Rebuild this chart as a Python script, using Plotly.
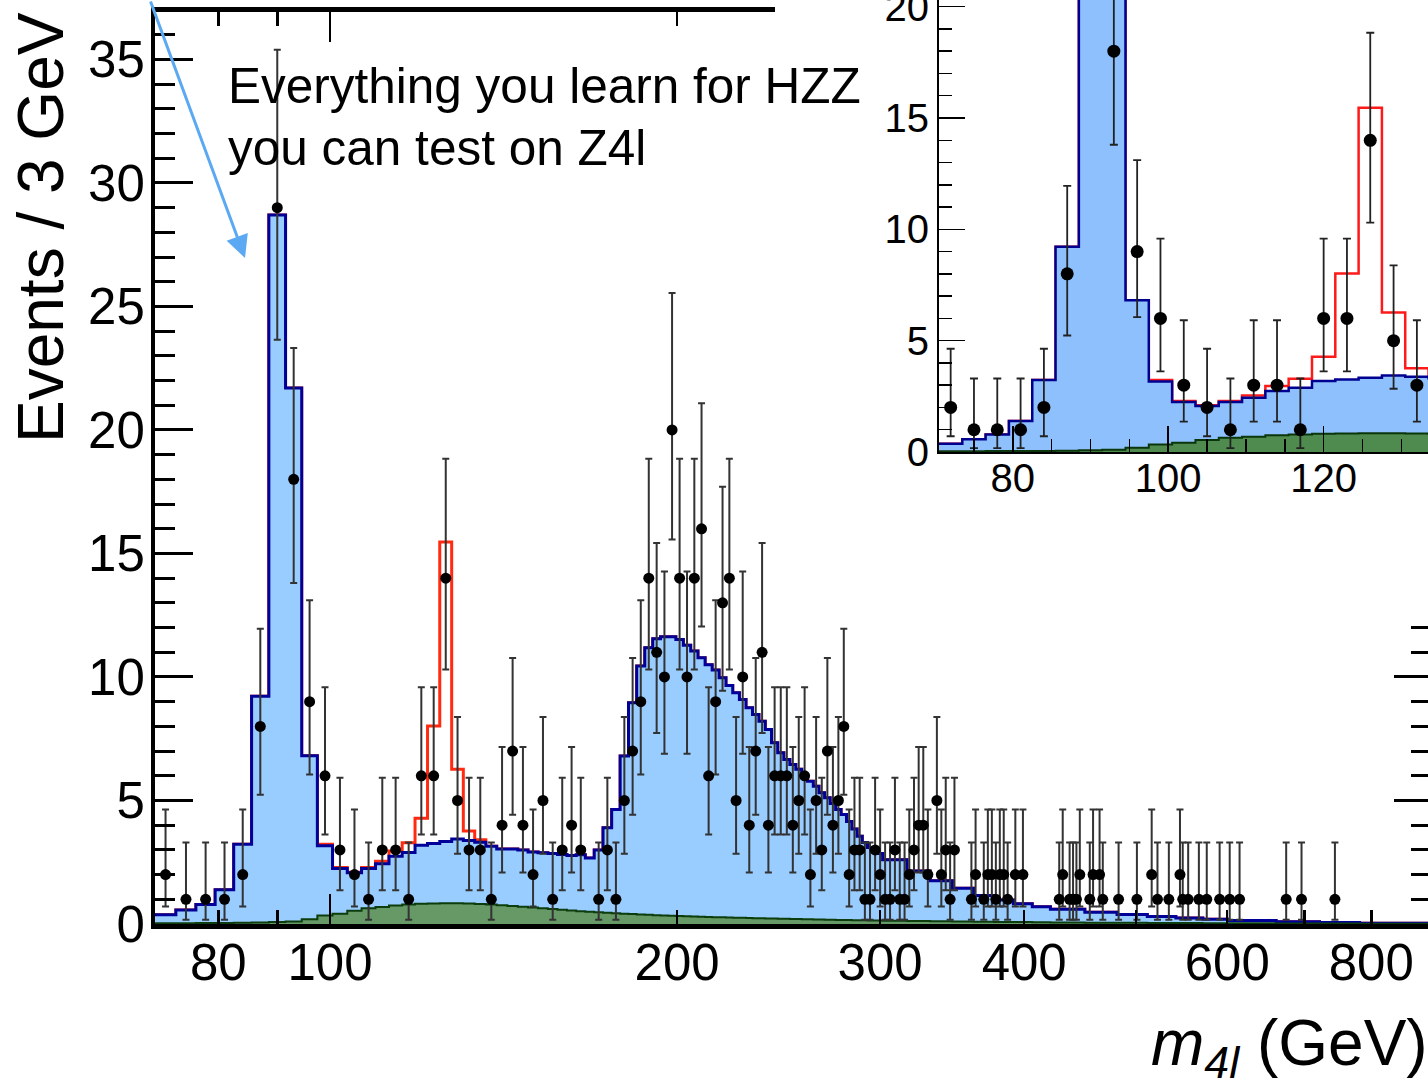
import numpy as np
import plotly.graph_objects as go

FIG_W, FIG_H = 1428, 1089
FONT = "Liberation Sans, Arial, Helvetica, sans-serif"

# Observed four-lepton events per 3 GeV bin (bin centre in GeV -> count)
data_mass = [72, 75, 78, 81, 84, 87, 90, 93, 96, 99, 102, 105, 108, 111, 114, 117, 120, 123, 126, 129,
             132, 135, 138, 141, 144, 147, 150, 153, 156, 159, 162, 165, 171, 174, 177, 180, 183, 186, 189, 192,
             195, 198, 201, 204, 207, 210, 213, 216, 219, 222, 225, 228, 231, 234, 237, 240, 243, 246, 249, 252,
             255, 258, 261, 264, 267, 270, 273, 276, 279, 282, 285, 288, 291, 294, 297, 300, 303, 306, 309, 312,
             315, 318, 321, 324, 327, 330, 336, 339, 342, 345, 348, 360, 363, 369, 372, 375, 378, 381, 384, 387,
             393, 399, 429, 432, 438, 441, 444, 447, 456, 459, 465, 468, 483, 501, 516, 522, 534, 546, 549, 555,
             567, 576, 591, 603, 615, 675, 696, 744]
data_count = [2, 1, 1, 1, 2, 8, 29, 18, 9, 6, 3, 2, 1, 3, 3, 1, 6, 6, 14, 5,
              3, 3, 1, 4, 7, 4, 2, 5, 1, 3, 4, 3, 1, 3, 1, 5, 7, 9, 14, 11,
              10, 20, 14, 10, 14, 16, 6, 9, 13, 14, 5, 10, 4, 7, 11, 4, 6, 6, 6, 4,
              5, 6, 2, 5, 3, 7, 4, 5, 8, 2, 3, 3, 1, 1, 3, 2, 1, 1, 3, 1,
              1, 2, 3, 4, 4, 2, 5, 2, 3, 1, 3, 1, 2, 1, 2, 2, 1, 2, 2, 1,
              2, 2, 1, 2, 1, 1, 1, 2, 1, 2, 2, 1, 1, 1, 2, 1, 1, 2, 1, 1,
              1, 1, 1, 1, 1, 1, 1, 1]

# 68% central Poisson intervals, indexed by the observed count
poisson_lo = [0.0, 0.173, 0.708, 1.367, 2.086, 2.840, 3.620, 4.419, 5.232, 6.057,
              6.891, 7.734, 8.585, 9.441, 10.30, 11.17, 12.04, 12.92, 13.80, 14.68,
              15.57, 16.45, 17.35, 18.24, 19.14, 20.03, 20.93, 21.84, 22.74, 23.65]
poisson_hi = [1.841, 3.300, 4.638, 5.918, 7.163, 8.382, 9.584, 10.77, 11.95, 13.11,
              14.27, 15.42, 16.56, 17.70, 18.83, 19.96, 21.08, 22.20, 23.32, 24.42,
              25.54, 26.64, 27.74, 28.84, 29.94, 31.03, 32.12, 33.21, 34.30, 35.39]

# Expected background: 3 GeV bins from 70.5 to 301.5 GeV, wider bins above
fine_edges = np.arange(70.5, 302.0, 3.0)
coarse_edges = [316.5, 331.5, 346.5, 361.5, 376.5, 391.5, 406.5, 421.5, 451.5, 481.5,
                511.5, 541.5, 571.5, 601.5, 661.5, 721.5, 781.5, 901.5]

# ZZ + Z+X (stacked total), events / 3 GeV
bkg_fine = [0.37, 0.57, 0.79, 1.39, 3.23, 9.22, 28.7, 21.7, 6.81, 3.17,
            2.25, 2.07, 2.25, 2.44, 2.74, 2.89, 3.19, 3.26, 3.34, 3.44,
            3.38, 3.31, 3.15, 3.04, 3.04, 3.00, 2.91, 2.88, 2.85, 2.81,
            2.77, 2.80, 2.67, 3.00, 3.90, 4.64, 6.80, 8.96, 10.44, 11.18,
            11.55, 11.63, 11.63, 11.52, 11.28, 11.05, 10.78, 10.50, 10.28, 9.97,
            9.66, 9.36, 9.09, 8.75, 8.48, 8.21, 7.87, 7.34, 6.93, 6.66,
            6.46, 6.26, 5.98, 5.78, 5.58, 5.31, 5.11, 4.88, 4.64, 4.43,
            4.15, 3.85, 3.55, 3.30, 3.10, 2.95, 2.85]
bkg_coarse = [2.6, 2.15, 1.75, 1.45, 1.15, 0.97, 0.82, 0.70, 0.60, 0.48,
              0.38, 0.30, 0.24, 0.19, 0.14, 0.09, 0.06, 0.03]

# Z+X reducible background, events / 3 GeV
zx_fine = [0.03, 0.03, 0.04, 0.04, 0.05, 0.06, 0.08, 0.10, 0.19, 0.34,
           0.42, 0.54, 0.64, 0.69, 0.75, 0.79, 0.82, 0.83, 0.84, 0.84,
           0.83, 0.81, 0.79, 0.76, 0.73, 0.70, 0.67, 0.64, 0.61, 0.58,
           0.55, 0.52, 0.50, 0.48, 0.46, 0.44, 0.42, 0.40, 0.38, 0.37,
           0.35, 0.34, 0.33, 0.32, 0.31, 0.30, 0.29, 0.28, 0.27, 0.27,
           0.26, 0.25, 0.25, 0.24, 0.23, 0.23, 0.22, 0.22, 0.21, 0.21,
           0.20, 0.20, 0.19, 0.19, 0.18, 0.18, 0.17, 0.17, 0.16, 0.16,
           0.16, 0.15, 0.15, 0.15, 0.14, 0.14, 0.14]
zx_coarse = [0.13, 0.12, 0.11, 0.10, 0.09, 0.085, 0.08, 0.075, 0.065, 0.055,
             0.05, 0.045, 0.04, 0.035, 0.03, 0.025, 0.02, 0.015]

# Higgs signal (m_H = 126 GeV) stacked on top of the background
signal_mass = [99, 102, 105, 108, 111, 114, 117, 120, 123, 126, 129, 132, 135]
signal_vals = [0.06, 0.04, 0.03, 0.04, 0.10, 0.22, 0.40, 1.09, 4.76, 12.12, 2.82, 0.38, 0.10]

# Axis tick values
main_x_labels = [80, 100, 200, 300, 400, 600, 800]
main_x_minor = [90, 500, 700]
main_x_long = [100]

model_edges = np.concatenate([fine_edges, coarse_edges])
bkg_total = np.array(bkg_fine + bkg_coarse)
zx_total = np.array(zx_fine + zx_coarse)
centres = 0.5 * (model_edges[:-1] + model_edges[1:])
sig_total = bkg_total.copy()
for m, s in zip(signal_mass, signal_vals):
    sig_total[int(np.argmin(np.abs(centres - m)))] += s

err_hi = [poisson_hi[n] - n for n in data_count]
err_lo = [n - poisson_lo[n] for n in data_count]


def step(values):
    return list(model_edges), list(values) + [values[-1]]


def add_panel(fig, xa, ya, style):
    xs, ys = step(sig_total)
    fig.add_trace(go.Scatter(x=xs, y=ys, mode="lines", line=dict(color=style["red"], width=style["lw"], shape="hv"),
                             xaxis=xa, yaxis=ya, showlegend=False, hoverinfo="skip"))
    xs, ys = step(bkg_total)
    fig.add_trace(go.Scatter(x=xs, y=ys, mode="lines", fill="tozeroy", fillcolor=style["blue"],
                             line=dict(color=style["navy"], width=style["lw"], shape="hv"),
                             xaxis=xa, yaxis=ya, showlegend=False, hoverinfo="skip"))
    xs, ys = step(zx_total)
    fig.add_trace(go.Scatter(x=xs, y=ys, mode="lines", fill="tozeroy", fillcolor=style["green"],
                             line=dict(color=style["dkgreen"], width=2, shape="hv"),
                             xaxis=xa, yaxis=ya, showlegend=False, hoverinfo="skip"))
    fig.add_trace(go.Scatter(x=data_mass, y=data_count, mode="markers",
                             marker=dict(color="black", size=style["ms"]),
                             error_y=dict(type="data", symmetric=False, array=err_hi, arrayminus=err_lo,
                                          color=style["err"], thickness=style["et"], width=style["ew"]),
                             xaxis=xa, yaxis=ya, showlegend=False, hoverinfo="skip"))


def px(x, y):
    return x / FIG_W, 1 - y / FIG_H


fig = go.Figure()

main_style = dict(red="#ff2a10", navy="#000099", blue="#99ccff", green="#669966", dkgreen="#0d3d0d",
                  lw=3, ms=11, err="#333333", et=2, ew=3.5)
inset_style = dict(red="#ff1a1a", navy="#000090", blue="#8dc0fd", green="#4f8a4f", dkgreen="#0b360b",
                   lw=2.5, ms=13, err="#222222", et=1.8, ew=4)

add_panel(fig, "x", "y", main_style)
# extra tick marks of the main frame (right-hand side, long tick at 100 GeV)
fig.add_trace(go.Scatter(x=[None], y=[None], xaxis="x", yaxis="y4", showlegend=False, hoverinfo="skip"))
fig.add_trace(go.Scatter(x=[None], y=[None], xaxis="x4", yaxis="y", showlegend=False, hoverinfo="skip"))
# white pad behind the inset
fig.add_trace(go.Scatter(x=[None], y=[None], xaxis="x2", yaxis="y2", showlegend=False, hoverinfo="skip"))
add_panel(fig, "x3", "y3", inset_style)

tickfont_main = dict(family=FONT, size=51, color="black")
tickfont_inset = dict(family=FONT, size=40, color="black")
y_main_range = [0, 36.92]
x_main_range = [np.log10(70.5), np.log10(896)]

fig.update_layout(
    width=FIG_W, height=FIG_H,
    margin=dict(l=0, r=0, t=0, b=0, autoexpand=False),
    paper_bgcolor="white", plot_bgcolor="white",
    xaxis=dict(type="log", domain=[155 / FIG_W, 1], range=x_main_range, anchor="y", automargin=False,
               showline=True, linewidth=5, linecolor="black", mirror="ticks",
               ticks="inside", ticklen=14, tickwidth=2.5, tickcolor="black",
               tickmode="array", tickvals=main_x_labels, ticktext=[str(v) for v in main_x_labels],
               tickfont=tickfont_main, ticklabelstandoff=-10,
               minor=dict(tickmode="array", tickvals=main_x_minor, ticks="inside", ticklen=14,
                          tickwidth=2.5, tickcolor="black"),
               showgrid=False, zeroline=False),
    xaxis4=dict(type="log", overlaying="x", anchor="y", range=x_main_range, automargin=False,
                showline=False, mirror="ticks", ticks="inside", ticklen=30, tickwidth=2.5, tickcolor="black",
                tickmode="array", tickvals=main_x_long, showticklabels=False,
                showgrid=False, zeroline=False),
    yaxis=dict(domain=[1 - 924 / FIG_H, 1 - 12 / FIG_H], range=y_main_range, anchor="x", automargin=False,
               showline=True, linewidth=4, linecolor="black",
               ticks="inside", ticklen=38, tickwidth=3, tickcolor="black", tick0=0, dtick=5,
               tickfont=tickfont_main, ticklabelstandoff=-4,
               minor=dict(dtick=1, ticks="inside", ticklen=20, tickwidth=3, tickcolor="black"),
               showgrid=False, zeroline=False),
    yaxis4=dict(overlaying="y", side="right", anchor="x", range=y_main_range, automargin=False,
                showline=False, ticks="inside", ticklen=34, tickwidth=3, tickcolor="black", tick0=0, dtick=5,
                showticklabels=False,
                minor=dict(dtick=1, ticks="inside", ticklen=17, tickwidth=3, tickcolor="black"),
                showgrid=False, zeroline=False),
    xaxis2=dict(domain=[775 / FIG_W, 1], range=[0, 1], anchor="y2", visible=False, automargin=False),
    yaxis2=dict(domain=[1 - 607 / FIG_H, 1], range=[0, 1], anchor="x2", visible=False, automargin=False),
    xaxis3=dict(domain=[939 / FIG_W, 1], range=[70.5, 133.43], anchor="y3", automargin=False,
                showline=True, linewidth=2, linecolor="black",
                ticks="inside", ticklen=26, tickwidth=1.5, tickcolor="black", tick0=0, dtick=20,
                tickfont=tickfont_inset, ticklabelstandoff=-10,
                minor=dict(dtick=5, ticks="inside", ticklen=13, tickwidth=1.5, tickcolor="black"),
                showgrid=False, zeroline=False),
    yaxis3=dict(domain=[1 - 452 / FIG_H, 1], range=[0, 20.30], anchor="x3", automargin=False,
                showline=True, linewidth=2, linecolor="black",
                ticks="inside", ticklen=26, tickwidth=1.5, tickcolor="black", tick0=0, dtick=5,
                tickfont=tickfont_inset, ticklabeloverflow="allow",
                minor=dict(dtick=1, ticks="inside", ticklen=13, tickwidth=1.5, tickcolor="black"),
                showgrid=False, zeroline=False),
)

ann = []
hx, hy = px(245, 258)
ann.append(dict(x=hx, y=hy, xref="paper", yref="paper", text="", showarrow=True,
                ax=-95, ay=-260, axref="pixel", ayref="pixel",
                arrowhead=2, arrowsize=1.5, arrowwidth=3, arrowcolor="#5aa9f2", standoff=0))
x1, y1 = px(226, 86)
ann.append(dict(x=x1, y=y1, xref="paper", yref="paper", text="Everything you learn for HZZ",
                showarrow=False, xanchor="left", yanchor="middle",
                font=dict(family=FONT, size=49.5, color="black")))
x2, y2 = px(226, 148)
ann.append(dict(x=x2, y=y2, xref="paper", yref="paper", text="you can test on Z4l",
                showarrow=False, xanchor="left", yanchor="middle",
                font=dict(family=FONT, size=49.5, color="black")))
xt, yt = px(41, 228)
ann.append(dict(x=xt, y=yt, xref="paper", yref="paper", text="Events / 3 GeV", textangle=-90,
                showarrow=False, xanchor="center", yanchor="middle",
                font=dict(family=FONT, size=64, color="black")))
xg, yg = px(1430, 1089)
ann.append(dict(x=xg, y=yg, xref="paper", yref="paper",
                text="<i>m</i><sub><i>4l</i></sub> (GeV)",
                showarrow=False, xanchor="right", yanchor="bottom",
                font=dict(family=FONT, size=64, color="black")))
fig.update_layout(annotations=ann)

fig.write_html("out.html", config={"staticPlot": True, "displayModeBar": False})
